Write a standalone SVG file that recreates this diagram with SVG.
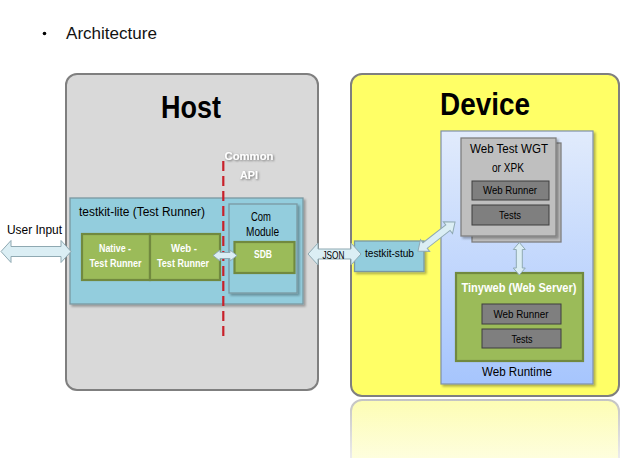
<svg xmlns="http://www.w3.org/2000/svg" width="627" height="458" viewBox="0 0 627 458">
<defs>
<linearGradient id="wrt" x1="0" y1="0" x2="0" y2="1">
<stop offset="0" stop-color="#e1ebfc"/>
<stop offset="1" stop-color="#a6c5fd"/>
</linearGradient>
<linearGradient id="refl" x1="0" y1="0" x2="0" y2="1">
<stop offset="0" stop-color="#fdfdb4"/>
<stop offset="1" stop-color="#fefee6"/>
</linearGradient>
<linearGradient id="reflStroke" x1="0" y1="0" x2="0" y2="1">
<stop offset="0" stop-color="#c4c4c4"/>
<stop offset="1" stop-color="#f4f4f4"/>
</linearGradient>
<filter id="sh" x="-10%" y="-10%" width="130%" height="130%">
<feDropShadow dx="2" dy="2" stdDeviation="1.2" flood-color="#000" flood-opacity="0.3"/>
</filter>
<filter id="tsh" x="-20%" y="-20%" width="140%" height="160%">
<feDropShadow dx="1" dy="1" stdDeviation="0.8" flood-color="#555" flood-opacity="0.8"/>
</filter>
</defs>
<style>
text{font-family:"Liberation Sans",Arial,sans-serif;}
.title{font-size:31px;font-weight:bold;fill:#000;}
.lbl{font-size:12px;fill:#000;}
.wlbl{font-size:11.5px;fill:#fff;font-weight:bold;}
.small{font-size:10px;fill:#000;}
.c{text-anchor:middle;}
.blue{fill:#93cddd;stroke:#7a98a2;stroke-width:1.3;}
.green{fill:#9bbb59;stroke:#71893f;stroke-width:2.2;}
.gray{fill:#bfbfbf;stroke:#7f7f7f;stroke-width:1.3;}
.dgray{fill:#7f7f7f;stroke:#3f3f3f;stroke-width:1;}
.arrow{fill:#dbeef4;stroke:#8fa9b2;stroke-width:1;}
</style>

<g id="heading">
<circle cx="44.5" cy="33.5" r="1.8" fill="#000"/>
<text x="66" y="39" style="font-size:16px;fill:#111" textLength="91" lengthAdjust="spacingAndGlyphs">Architecture</text>
</g>

<g id="host">
<rect x="66" y="74" width="252" height="316" rx="11" fill="#d9d9d9" stroke="#7f7f7f" stroke-width="2"/>
<text x="191" y="118" class="title c" textLength="60" lengthAdjust="spacingAndGlyphs">Host</text>
</g>

<g id="device">
<rect x="351" y="400" width="268" height="70" rx="11" fill="url(#refl)" stroke="url(#reflStroke)" stroke-width="2"/>
<rect x="351" y="74" width="268" height="322" rx="11" fill="#ffff66" stroke="#7f7f7f" stroke-width="2"/>
<text x="485" y="115" class="title c" textLength="90" lengthAdjust="spacingAndGlyphs">Device</text>
</g>

<g id="testkit-lite">
<rect x="70" y="198" width="233" height="106" class="blue" filter="url(#sh)"/>
<text x="79" y="216" class="lbl" textLength="126" lengthAdjust="spacingAndGlyphs">testkit-lite (Test Runner)</text>
</g>

<g id="native-runner">
<rect x="82" y="234" width="68" height="46" class="green"/>
<text x="115" y="251.5" class="wlbl c" textLength="32" lengthAdjust="spacingAndGlyphs">Native -</text>
<text x="115.5" y="266.5" class="wlbl c" textLength="52" lengthAdjust="spacingAndGlyphs">Test Runner</text>
</g>

<g id="web-runner-host">
<rect x="150" y="234" width="70" height="46" class="green"/>
<text x="184" y="251.5" class="wlbl c" textLength="26" lengthAdjust="spacingAndGlyphs">Web -</text>
<text x="183" y="266.5" class="wlbl c" textLength="52" lengthAdjust="spacingAndGlyphs">Test Runner</text>
</g>

<g id="com-module">
<rect x="229" y="204" width="68" height="89" class="blue" stroke="#7f7f7f" filter="url(#sh)"/>
<text x="261" y="221" class="lbl c" textLength="20" lengthAdjust="spacingAndGlyphs">Com</text>
<text x="262.5" y="236" class="lbl c" textLength="33" lengthAdjust="spacingAndGlyphs">Module</text>
</g>

<g id="sdb">
<rect x="234.5" y="242" width="60" height="31" class="green"/>
<text x="263" y="257.5" class="wlbl c" textLength="18" lengthAdjust="spacingAndGlyphs">SDB</text>
</g>

<g id="common-api">
<line x1="223.3" y1="161" x2="223.3" y2="339" stroke="#c8202a" stroke-width="2.2" stroke-dasharray="10 5"/>
<g filter="url(#tsh)">
<text x="249" y="160" class="wlbl c" textLength="49" lengthAdjust="spacingAndGlyphs">Common</text>
<text x="249" y="179" class="wlbl c" textLength="18" lengthAdjust="spacingAndGlyphs">API</text>
</g>
</g>

<g id="user-input">
<text x="7" y="234" class="lbl" textLength="55" lengthAdjust="spacingAndGlyphs">User Input</text>
</g>

<g id="testkit-stub">
<rect x="354.5" y="241" width="69.5" height="30.5" class="blue" stroke="#7f7f7f" filter="url(#sh)"/>
<text x="365" y="257" class="lbl" style="font-size:11px" textLength="49" lengthAdjust="spacingAndGlyphs">testkit-stub</text>
</g>

<g id="web-runtime">
<rect x="441" y="131" width="152" height="253" fill="url(#wrt)" stroke="#7f8fa8" stroke-width="1.2" filter="url(#sh)"/>
<text x="517" y="375.5" class="lbl c" textLength="70" lengthAdjust="spacingAndGlyphs">Web Runtime</text>
</g>

<g id="web-test-wgt">
<rect x="472" y="143" width="89" height="99" class="gray"/>
<rect x="461" y="138" width="95" height="98" class="gray" filter="url(#sh)"/>
<text x="509" y="153" class="lbl c" textLength="78" lengthAdjust="spacingAndGlyphs">Web Test WGT</text>
<text x="508" y="172" class="lbl c" textLength="32" lengthAdjust="spacingAndGlyphs">or XPK</text>
<rect x="472" y="181" width="77" height="19" class="dgray"/>
<text x="510" y="194" class="small c" textLength="54" lengthAdjust="spacingAndGlyphs">Web Runner</text>
<rect x="472" y="205" width="77" height="20" class="dgray"/>
<text x="510" y="218.5" class="small c" textLength="22" lengthAdjust="spacingAndGlyphs">Tests</text>
</g>

<g id="tinyweb">
<rect x="456" y="273" width="127" height="88" class="green"/>
<text x="519" y="291.5" class="wlbl c" style="font-size:12.5px" textLength="115" lengthAdjust="spacingAndGlyphs">Tinyweb (Web Server)</text>
<rect x="482" y="304" width="79" height="20" class="dgray"/>
<text x="521" y="317.5" class="small c" textLength="55" lengthAdjust="spacingAndGlyphs">Web Runner</text>
<rect x="482" y="329" width="79" height="19" class="dgray"/>
<text x="522" y="342.5" class="small c" textLength="21" lengthAdjust="spacingAndGlyphs">Tests</text>
</g>

<g id="connectors">
<path class="arrow" d="M1,251.5 L11,240.5 L11,246.5 L61,246.5 L61,240.5 L71,251.5 L61,262.5 L61,256.5 L11,256.5 L11,262.5 Z"/>
<path class="arrow" d="M213,255.5 L220,250 L220,252.5 L230,252.5 L230,250 L237,255.5 L230,261 L230,258.5 L220,258.5 L220,261 Z"/>
<path class="arrow" d="M308,254 L318,243 L318,249 L351,249 L351,243 L361,254 L351,265 L351,259 L318,259 L318,265 Z"/>
<text x="333.5" y="258.5" class="lbl c" style="font-size:11px" textLength="22" lengthAdjust="spacingAndGlyphs">JSON</text>
<path class="arrow" transform="translate(519.3,242.5) rotate(90)" d="M0,0 L7,-6 L7,-3 L25.5,-3 L25.5,-6 L32.5,0 L25.5,6 L25.5,3 L7,3 L7,6 Z"/>
<path class="arrow" transform="translate(418,251) rotate(-38)" d="M0,0 L9,-7.5 L9,-3.5 L38,-3.5 L38,-7.5 L47,0 L38,7.5 L38,3.5 L9,3.5 L9,7.5 Z"/>
</g>
</svg>
